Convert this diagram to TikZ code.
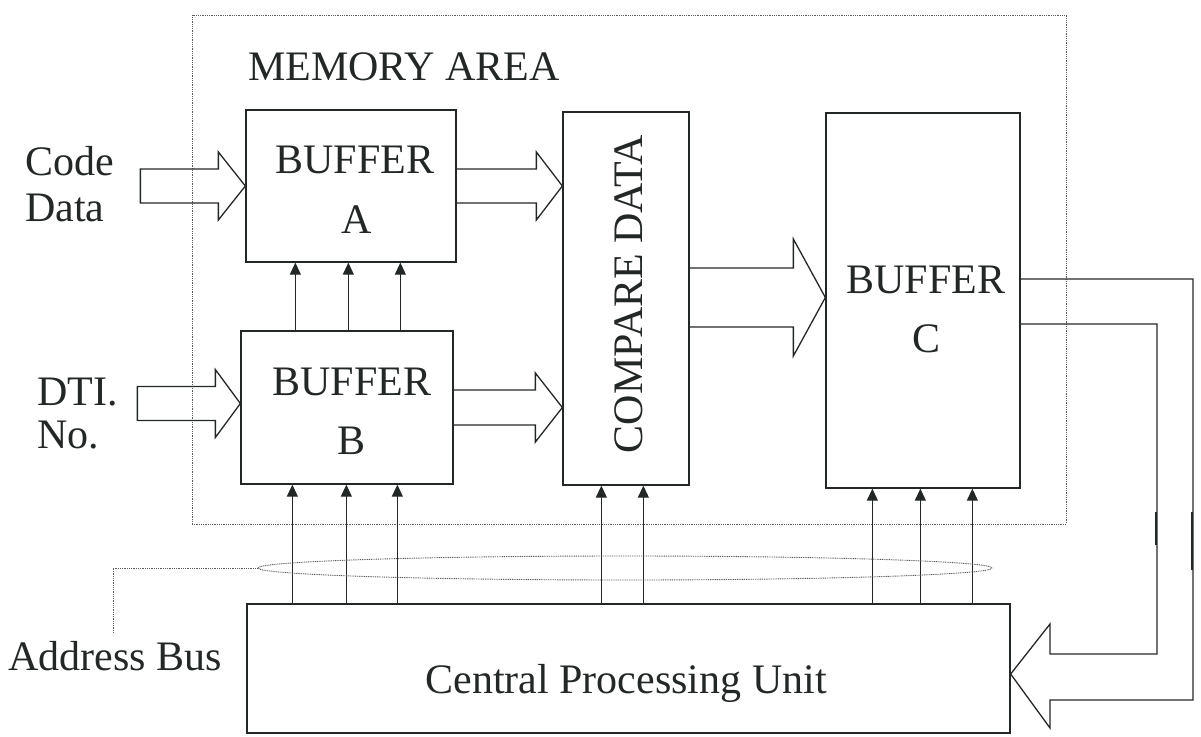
\documentclass[tikz,border=0pt]{standalone}
\usepackage{fontspec}
\setmainfont{Liberation Serif}
\usetikzlibrary{arrows.meta,calc,shapes.geometric}
\definecolor{inkc}{RGB}{35,40,38}
\newcommand\blockarr[6]{%
  \draw[barrow] ($(#1)+(#2,-#4)$) -- ($(#1)+(#3,-#4)$) -- ($(#1)+(#3,-#5)$) -- (#1)
    -- ($(#1)+(#3,#5)$) -- ($(#1)+(#3,#4)$) -- ($(#1)+(#2,#4)$) #6;}
\begin{document}
\begin{tikzpicture}[x=1pt,y=-1pt,
  box/.style={draw=inkc,line width=1.3pt,rectangle,inner sep=0pt},
  txt/.style={inner sep=0pt,font=\fontsize{42}{45}\selectfont,text=inkc},
  wire/.style={draw=inkc,line width=1.1pt},
  tiparrow/.style={wire,-{Triangle[length=12pt,width=11pt]}},
  barrow/.style={draw=inkc,line width=1.3pt,line join=miter},
  dots/.style={draw=inkc!75,line width=0.9pt,dash pattern=on 1pt off 0.8pt}]
\useasboundingbox (0,0) rectangle (1201,736);

% memory area
\node[dots,rectangle,inner sep=0pt,minimum width=874,minimum height=509] (mem) at (629,269.5) {};
\node[txt,anchor=base west] (memlbl) at (248,80) {MEMORY AREA};

% boxes
\node[box,minimum width=210,minimum height=152] (bufA) at (351,186) {};
\node[box,minimum width=212,minimum height=153] (bufB) at (347,407.5) {};
\node[box,minimum width=126,minimum height=373] (cmp) at (626,298.5) {};
\node[box,minimum width=194,minimum height=375] (bufC) at (923,300.5) {};
\node[box,minimum width=763,minimum height=129] (cpu) at (628.5,668.5) {};

% labels
\node[txt,anchor=base] (lA1) at (355,173) {BUFFER};
\node[txt,anchor=base] (lA2) at (357,233) {A};
\node[txt,anchor=base] (lB1) at (352,395) {BUFFER};
\node[txt,anchor=base] (lB2) at (352,454) {B};
\node[txt,anchor=base] (lC1) at (926,293) {BUFFER};
\node[txt,anchor=base] (lC2) at (926,352) {C};
\node[txt,anchor=base,rotate=90] (lcmp) at (642,294) {COMPARE DATA};
\node[txt,anchor=base] (lcpu) at (626,693) {Central Processing Unit};
\node[txt,anchor=base west] (lcode1) at (25,175) {Code};
\node[txt,anchor=base west] (lcode2) at (25,221) {Data};
\node[txt,anchor=base west] (ldti1) at (37,405) {DTI.};
\node[txt,anchor=base west] (ldti2) at (37,448) {No.};
\node[txt,anchor=base west] (laddr) at (8,670) {Address Bus};

% block arrows
\blockarr{bufA.west}{-105}{-27}{17}{34}{-- cycle}
\coordinate (t2) at (cmp.west |- bufA.east);
\blockarr{t2}{-107}{-26}{17}{34}{}
\coordinate (t3) at ([yshift=4pt]bufB.west);
\blockarr{t3}{-103}{-25}{17}{34}{-- cycle}
\coordinate (t4) at (cmp.west |- bufB.east);
\blockarr{t4}{-110}{-27}{17.5}{34.5}{}
\coordinate (t5) at ([yshift=3pt]bufC.west);
\blockarr{t5}{-137}{-32}{29.5}{58.5}{}

% feedback from buffer C to CPU
\coordinate (t6) at ([yshift=-5.5pt]cpu.east);
\draw[barrow] ([yshift=21.5pt]bufC.east) -| (1193,700) -- (1050,700) -- (1050,728)
  -- (t6) -- (1050,624) -- (1050,654) -| (1157,324) -- ([yshift=-23.5pt]bufC.east);
\draw[draw=inkc,line width=2.6pt] (1156,512) -- (1156,545);
\draw[draw=inkc,line width=2.6pt] (1192,512) -- (1192,570);

% control arrows B -> A
\foreach \a/\b in {55/50,108/103,160/155}
  \draw[tiparrow] ([xshift=\a pt]bufB.north west) -- ([xshift=\b pt]bufA.south west);
% CPU -> B
\foreach \a/\b in {46/52,100/106,151/157}
  \draw[tiparrow] ([xshift=\a pt]cpu.north west) -- ([xshift=\b pt]bufB.south west);
% CPU -> compare
\foreach \a/\b in {355/39,397/81}
  \draw[tiparrow] ([xshift=\a pt]cpu.north west) -- ([xshift=\b pt]cmp.south west);
% CPU -> C
\foreach \a/\b in {626/47,674/95,726/147}
  \draw[tiparrow] ([xshift=\a pt]cpu.north west) -- ([xshift=\b pt]bufC.south west);

% address bus ellipse and leader
\node[dots,ellipse,inner sep=0pt,minimum width=734,minimum height=24] (bus) at (625,568) {};
\coordinate (lead) at (113,633);
\draw[dots] (lead) |- (bus.west);
\end{tikzpicture}
\end{document}
